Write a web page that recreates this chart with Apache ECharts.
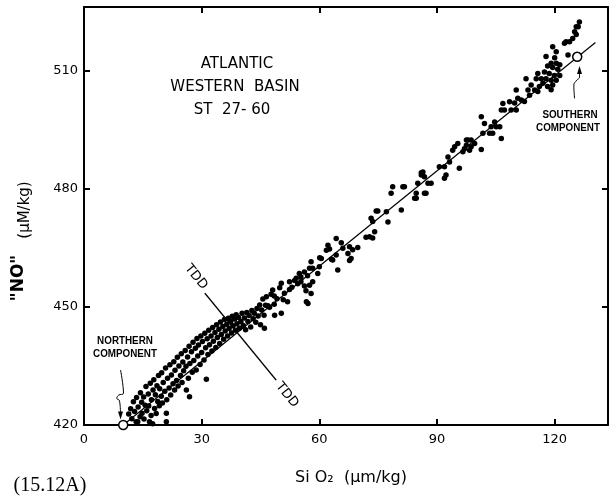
<!DOCTYPE html>
<html><head><meta charset="utf-8">
<script src="https://cdn.jsdelivr.net/npm/echarts@6/dist/echarts.min.js"></script>
<style>html,body{margin:0;padding:0;background:#fff}#c{width:611px;height:497px}</style>
</head><body><div id="c"></div>
<script>
// Axis ticks
const xTicks = [0, 30, 60, 90, 120];
const yTicks = [420, 450, 480, 510];

// SiO2 (x) vs "NO" (y) samples, grouped by region
const samplesLow = [
  [11.4,422.8],[11.9,424.1],[12.2,421.6],[12.6,425.9],[12.9,423.4],[13.3,420.8],[13.4,427.0],[13.7,420.8],[13.8,424.6],[14.3,422.1],[14.4,428.2],[14.7,425.8],[14.8,423.0],
  [15.2,427.1],[15.3,421.5],[15.6,425.0],[15.8,429.8],[16.0,423.6],[16.4,427.9],[16.5,424.8],[16.7,420.8],[16.9,430.6],[17.1,422.4],[17.2,426.4],[17.5,420.3],[17.6,428.9],[17.8,431.5],
  [18.0,424.2],[18.2,427.7],[18.4,422.9],[18.6,430.0],[18.8,426.0],[19.0,432.6],[19.2,424.9],[19.3,429.2],[19.7,427.3],[19.8,433.3],[20.0,425.6],[20.2,430.8],[20.6,428.6],[20.8,434.5],
  [21.0,420.8],[21.0,423.0],[21.1,426.4],[21.3,431.9],[21.7,429.4],[21.9,435.3],[22.1,427.6],[22.3,432.7],[22.7,430.5],[22.9,436.1],[23.1,428.9],[23.2,433.9],[23.6,431.3],[23.8,437.2],
  [24.0,429.9],[24.2,435.0],[24.6,432.6],[24.8,438.1],[25.0,430.8],[25.2,436.0],[25.4,433.8],[25.8,438.9],[26.1,428.9],[26.0,434.9],[26.4,437.3],[26.6,431.9],[26.8,440.0],[26.9,427.2],
  [27.0,435.6],[27.4,438.6],[27.6,433.4],[27.8,441.0],[28.0,436.4],[28.4,439.5],[28.6,434.0],[28.8,442.0],[29.0,437.5],[29.2,440.3],[29.6,435.4],[29.8,442.6],[30.0,438.4],[30.2,441.2],
  [30.6,436.5],[30.8,443.3],[31.0,439.6],[31.2,431.6],[31.4,441.9],[31.6,437.9],[31.8,444.1],[32.0,440.4],[32.4,442.6],[32.6,438.8],[32.8,444.8],[33.0,441.3],[33.4,443.5],[33.6,439.7],
  [33.8,445.5],[34.0,442.2],[34.4,444.3],[34.6,440.7],[34.8,446.2],[35.0,443.0],[35.4,445.0],[35.6,441.8],[35.8,446.8],[36.0,443.9],[36.4,445.6],[36.6,442.6],[36.8,447.1],[37.0,444.5],
  [37.4,446.3],[37.6,443.4],[37.8,447.6],[38.0,445.2],[38.4,446.9],[38.6,444.1],[38.8,448.0],[39.0,445.7],[39.4,447.3],[39.6,444.6],[40.0,446.3],[40.3,448.4],[40.6,445.3],[40.9,447.2],
  [41.2,444.2],[41.5,448.6],[41.8,446.3],[42.1,447.8],[42.5,444.9],[42.8,449.1],[43.1,447.0],[43.4,448.4],[43.8,446.1],[44.1,449.6],[44.4,447.7],[44.8,450.5],[45.0,445.5],[45.3,449.2],
  [45.6,452.0],[45.9,447.9],[46.0,444.6],[46.3,450.4],[46.5,452.6]
];
const samplesMid = [
  [46.9,450.3],[47.3,449.9],[47.7,453.2],[48.1,454.3],[48.5,452.8],[48.5,450.7],[48.6,447.9],[49.2,452.1],[49.9,454.9],[50.3,456.0],[50.3,448.4],[50.8,451.8],[51.1,453.5],[51.9,451.3],
  [52.4,456.4],[52.4,454.4],[53.0,455.0],[53.7,456.7],[54.1,457.3],[54.5,455.9],[54.9,458.5],[55.3,457.6],[55.3,456.4],[56.2,458.9],[56.2,455.3],[56.6,454.1],[56.7,451.3],[57.0,457.9],[57.1,450.9],
  [57.5,459.8],[57.5,455.5],[57.9,461.5],[57.9,453.4],[58.3,459.8],[58.3,456.4],[59.6,458.5],[60.0,460.2],[60.1,462.5],[60.5,462.3],[61.8,464.4],[62.2,465.7],[62.6,464.7],[63.1,462.1],[63.4,461.9],
  [64.3,467.4],[64.3,463.2],[64.7,459.4],[65.6,466.3],[66.0,464.9],[67.3,463.6],[67.7,465.3],[67.7,461.8],[68.1,462.3],[68.5,464.5],[69.8,465.1],[71.9,467.7],[72.8,467.8],[73.2,472.5],[73.6,471.7],
  [73.6,467.5],[74.1,469.1],[74.5,474.4],[74.9,474.4],[77.1,474.2],[77.5,471.6],[78.3,478.9],[78.7,480.5],[80.9,474.6],[81.3,480.5],[84.7,477.6],[85.1,481.4],[86.0,484.1],[86.8,483.1],[87.2,478.9]
];
const samplesHigh = [
  [81.7,480.5],[84.3,477.6],[84.7,478.9],[86.4,484.3],[86.0,483.5],[86.8,478.9],[87.7,481.4],[88.5,481.4],[90.6,485.6],[91.9,485.6],[91.9,482.7],[92.3,483.5],[92.8,488.1],[93.2,486.8],
  [94.0,489.8],[94.5,490.7],[95.3,491.5],[95.7,485.2],[96.6,489.4],[97.0,490.2],[97.5,491.1],[97.5,492.4],[97.9,492.4],[98.3,489.8],[98.7,490.7],[98.7,492.4],[99.6,491.5],[101.3,490.0],
  [101.3,498.3],[101.7,494.1],[102.1,496.6],[103.4,494.1],[103.8,495.8],[104.2,494.1],[104.7,497.0],[105.1,495.8],[106.0,495.8],[106.4,492.8],[106.4,500.0],[106.8,501.7],[107.2,500.0],
  [108.5,502.1],[108.9,500.0],[109.8,501.8],[110.2,500.0],[110.2,505.1],[110.6,503.0],[111.5,502.6],[112.3,502.2],[112.7,508.0],[113.2,505.1],[113.6,503.8],[114.0,506.4],[114.9,505.1],
  [115.3,508.0],[115.7,509.3],[115.7,504.7],[116.1,506.0],[116.6,508.0],[117.0,506.8],[117.4,509.7],[117.8,513.6],[117.8,508.0],[118.2,511.2],[118.2,506.0],[118.6,509.3],[119.1,511.9],
  [119.1,507.6],[119.1,505.2],[119.5,516.1],[119.5,510.8],[119.5,506.4],[119.9,508.8],[120.0,513.3],[120.4,514.8],[120.4,511.9],[120.4,507.6],[120.8,510.4],[121.3,511.5],[121.3,508.8],
  [122.5,517.0],[122.9,517.4],[123.4,514.0],[123.8,517.4],[124.6,518.2],[125.1,519.9],[125.5,519.2],[125.5,521.2],[126.0,521.2],[126.3,522.4]
];

// End members (northern / southern component) and lines
const components = [[10, 420], [125.75, 513.55]];
const mixingLine = [[10, 420], [130.4, 517.2]];
const tddLine = [[30.8, 453.5], [49.0, 431.4]];
const northArrow = [[9.31,433.97],[10.07,428.05],[8.87,427.62],[8.36,426.78],[9.05,426.17],[9.31,422.6]];
const southArrow = [[125.07,502.98],[124.89,506.36],[125.65,507.63],[126.34,508.32],[126.34,509.6]];
const northHead = [[9.31, 422.4]];
const southHead = [[126.34, 510.2]];

const chart = echarts.init(document.getElementById('c'), null, {renderer: 'canvas'});
const black = '#000';
const tickFont = 'DejaVu Sans';

function xAx(pos, labels) {
  return {
    type: 'value', position: pos, min: 0, max: 133.6, interval: 30,
    axisLine: {show: true, onZero: false, lineStyle: {color: black, width: 2}},
    axisTick: {show: true, inside: true, length: 6, lineStyle: {color: black, width: 2}},
    axisLabel: {show: labels, color: black, fontFamily: tickFont, fontSize: 13, margin: 8, showMaxLabel: false,
      formatter: v => xTicks.includes(v) ? String(v) : ''},
    splitLine: {show: false}
  };
}
function yAx(pos, labels) {
  return {
    type: 'value', position: pos, min: 420, max: 526.2, interval: 30,
    axisLine: {show: true, onZero: false, lineStyle: {color: black, width: 2}},
    axisTick: {show: true, inside: true, length: 6, lineStyle: {color: black, width: 2}},
    axisLabel: {show: labels, color: black, fontFamily: tickFont, fontSize: 13, margin: 6, showMaxLabel: false,
      formatter: v => yTicks.includes(v) ? String(v) : ''},
    splitLine: {show: false}
  };
}

function txt(text, x, y, font, extra) {
  return Object.assign({
    type: 'text', x: x, y: y, silent: true,
    style: {text: text, font: font, fill: black, align: 'center', verticalAlign: 'middle',
      textAlign: 'center', textVerticalAlign: 'middle'}
  }, extra || {});
}

const labelFont = '15px "DejaVu Sans"';
const smallBold = 'bold 12px "Liberation Sans"';
const dotStyle = {color: black, opacity: 1};

chart.setOption({
  animation: false,
  backgroundColor: '#fff',
  grid: {left: 84, right: 3, top: 7, bottom: 72, containLabel: false},
  xAxis: [xAx('bottom', true), xAx('top', false)],
  yAxis: [yAx('left', true), yAx('right', false)],
  series: [
    {type: 'line', data: mixingLine, symbol: 'none', lineStyle: {color: black, width: 1.2}, z: 2},
    {type: 'line', data: tddLine, symbol: 'none', lineStyle: {color: black, width: 1.5}, z: 2},
    {type: 'scatter', data: samplesLow, symbolSize: 5.5, itemStyle: dotStyle, z: 3},
    {type: 'scatter', data: samplesMid, symbolSize: 5.5, itemStyle: dotStyle, z: 3},
    {type: 'scatter', data: samplesHigh, symbolSize: 5.5, itemStyle: dotStyle, z: 3},
    {type: 'scatter', data: components, symbol: 'circle', symbolSize: 9,
      itemStyle: {color: '#fff', borderColor: black, borderWidth: 1.5, opacity: 1}, z: 4, clip: false},
    {type: 'line', data: northArrow, smooth: 0.4, symbol: 'none', lineStyle: {color: black, width: 1}, z: 2},
    {type: 'line', data: southArrow, smooth: 0.4, symbol: 'none', lineStyle: {color: black, width: 1}, z: 2},
    {type: 'scatter', data: northHead, symbol: 'triangle', symbolSize: [5, 8], symbolRotate: 180, itemStyle: dotStyle, z: 3},
    {type: 'scatter', data: southHead, symbol: 'triangle', symbolSize: [5, 8], itemStyle: dotStyle, z: 3}
  ],
  graphic: [
    txt('ATLANTIC', 237, 64, labelFont),
    txt('WESTERN  BASIN', 235, 87, labelFont),
    txt('ST  27- 60', 232, 110, labelFont),
    txt('NORTHERN', 125, 341, smallBold, {scaleX: 0.82, scaleY: 0.85}),
    txt('COMPONENT', 125, 354, smallBold, {scaleX: 0.82, scaleY: 0.85}),
    txt('SOUTHERN', 570, 115, smallBold, {scaleX: 0.82, scaleY: 0.85}),
    txt('COMPONENT', 568, 128, smallBold, {scaleX: 0.82, scaleY: 0.85}),
    txt('TDD', 196, 277, '13px "DejaVu Sans"', {rotation: -0.89}),
    txt('TDD', 287, 395, '13px "DejaVu Sans"', {rotation: -0.89}),
    txt('Si O\u2082  (\u03bcm/kg)', 351, 478, '16px "DejaVu Sans"'),
    txt('"NO"', 19, 278, 'bold 17px "DejaVu Sans"', {rotation: Math.PI / 2}),
    txt('(\u03bcM/kg)', 25, 210, '15px "DejaVu Sans"', {rotation: Math.PI / 2}),
    txt('(15.12A)', 50, 486, '20px "Liberation Serif"')
  ]
});
</script></body></html>
